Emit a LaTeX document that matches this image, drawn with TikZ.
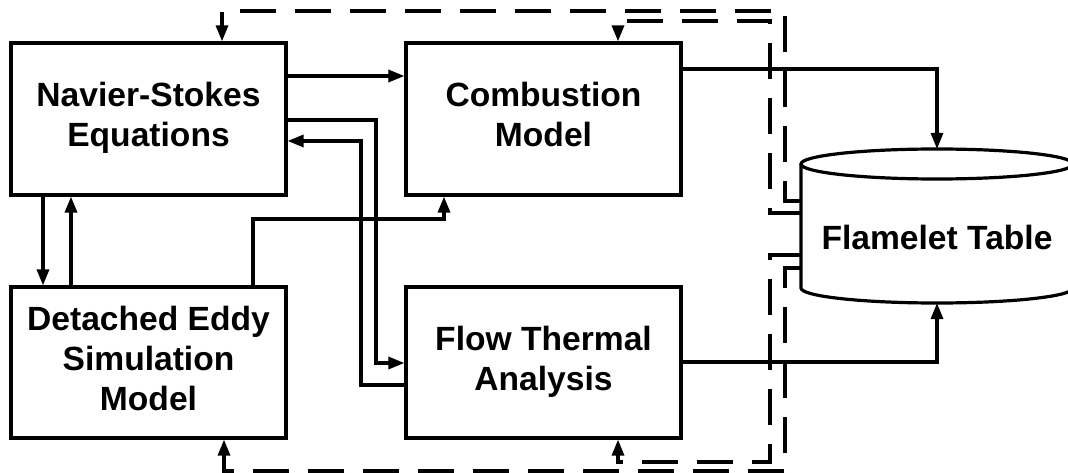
\documentclass[tikz,border=0pt]{standalone}
\usepackage{fontspec}
\setmainfont{Liberation Sans}
\usetikzlibrary{arrows.meta}
\begin{document}
\begin{tikzpicture}[x=1pt,y=-1pt,
  lbl/.style={font=\fontsize{33.6}{40}\selectfont\bfseries, align=center},
  blk/.style={lbl, draw, line width=3.2pt, inner sep=0pt, minimum width=275pt},
  conn/.style={line width=3.2pt, -{Triangle[length=16pt,width=12pt]}},
  dconn/.style={conn, dash pattern=on 36pt off 19pt}]
\useasboundingbox (0,0) rectangle (1068,473);
% blocks
\node[blk, minimum height=152pt] (ns)   at (148.5,119) {\strut Navier-Stokes\\Equations\strut};
\node[blk, minimum height=152pt] (comb) at (543.5,119) {\strut Combustion\\Model\strut};
\node[blk, minimum height=151pt] (des)  at (148.5,362.5) {\strut Detached Eddy\\Simulation\\Model\strut};
\node[blk, minimum height=151pt] (fta)  at (543.5,362.5) {\strut Flow Thermal\\Analysis\strut};
% flamelet table cylinder
\draw[line width=3.2pt] (937,164) ellipse[x radius=136pt, y radius=15pt];
\draw[line width=3.2pt] (801,164) -- (801,288) arc[start angle=180, end angle=360, x radius=136pt, y radius=15pt] -- (1073,164);
\node[lbl] (ft) at (937,237) {Flamelet Table};
\coordinate (fttop) at (937,149);
\coordinate (ftbot) at (937,303);
\coordinate (ftA) at (801,201);
\coordinate (ftB) at (801,213);
\coordinate (ftC) at (801,255);
\coordinate (ftD) at (801,268);
% solid connectors
\draw[conn] (ns.east |- 0,76) -- (comb.west |- 0,76);
\draw[conn] (ns.east |- 0,120) -| (376,363) -- (fta.west |- 0,363);
\draw[conn] (fta.west |- 0,385) -| (361,141) -- (ns.east |- 0,141);
\draw[conn] (ns.south -| 43,0) -- (des.north -| 43,0);
\draw[conn] (des.north -| 71,0) -- (ns.south -| 71,0);
\draw[conn] (des.north -| 253,0) |- (444,219) -- (comb.south -| 444,0);
\draw[conn] (comb.east |- 0,69) -| (fttop);
\draw[conn] (fta.east |- 0,362) -| (ftbot);
% dashed feedback connectors
\draw[dconn] (ftA) -| (785,11) -| (ns.north -| 222,0);
\draw[dconn] (ftB) -| (770,21) -| (comb.north -| 618,0);
\draw[dconn] (ftC) -| (770,462) -| (fta.south -| 618,0);
\draw[dconn] (ftD) -| (785,471) -| (des.south -| 224,0);
\end{tikzpicture}
\end{document}
